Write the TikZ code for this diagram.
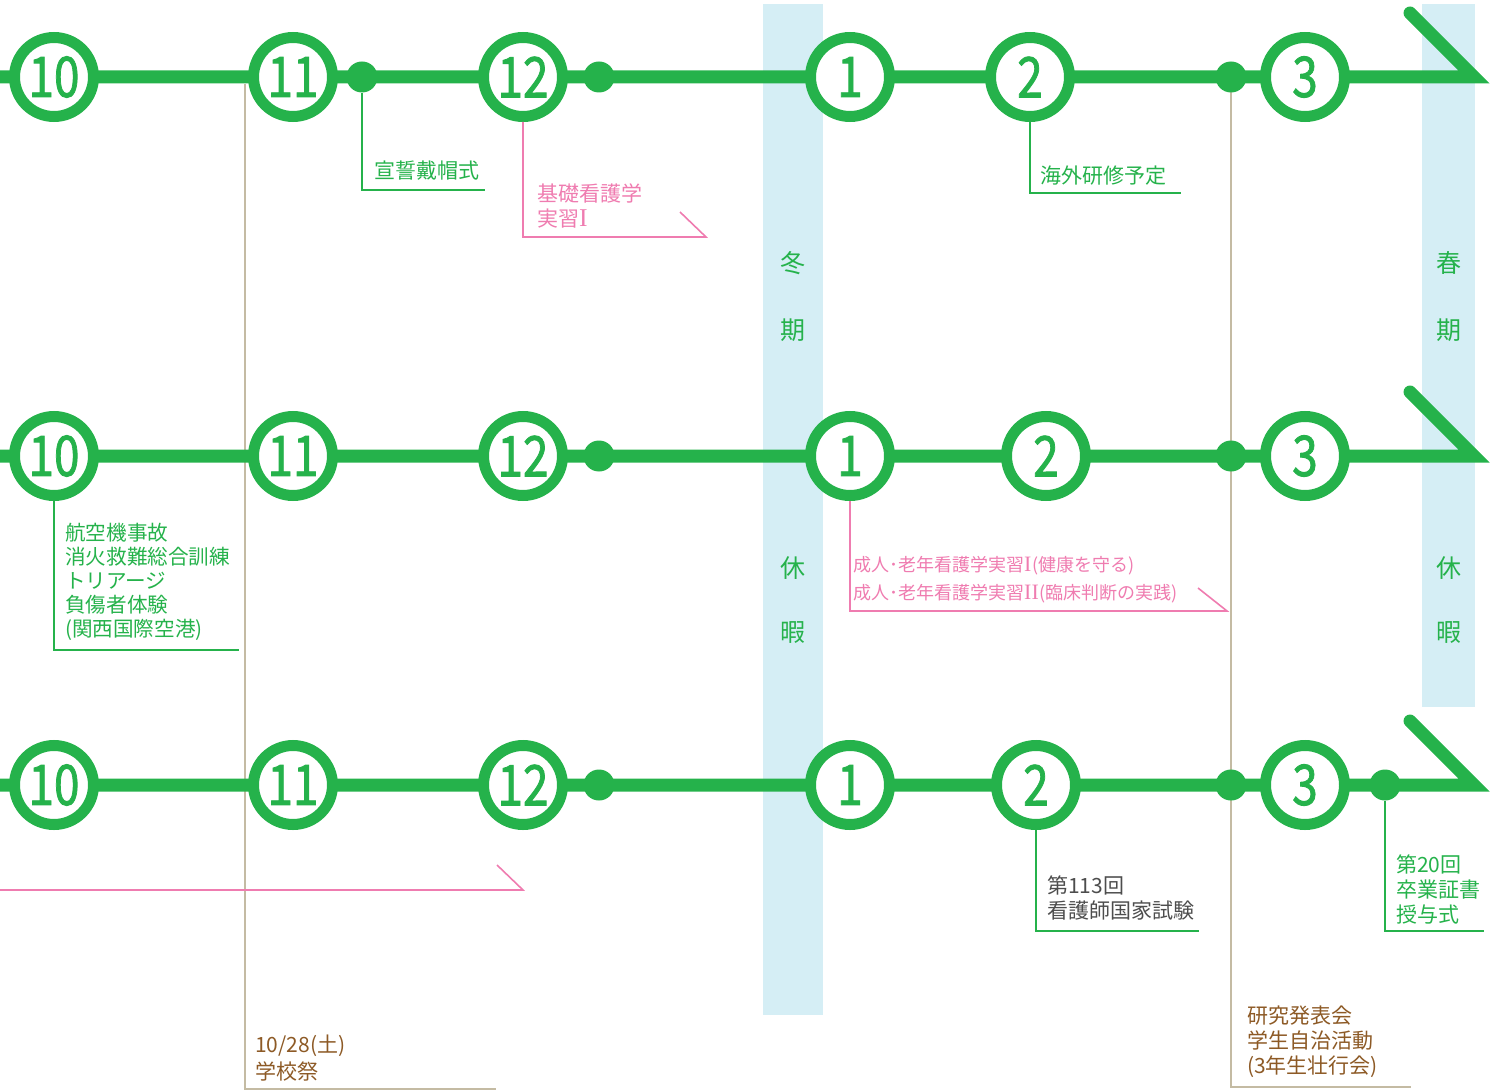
\documentclass[tikz,border=0pt]{standalone}
\usepackage{fontspec}
\setmainfont{Noto Sans CJK JP}
\newfontfamily\numfont[FakeBold=1.6]{Noto Sans CJK JP}
\newfontfamily\romfont[Scale=1.22]{Liberation Serif}
\usepackage{tikz}
\usetikzlibrary{positioning, calc}
\definecolor{lineGreen}{HTML}{25B24B}
\definecolor{notePink}{HTML}{EF7CB0}
\definecolor{restBlue}{HTML}{D5EEF5}
\definecolor{tanLine}{HTML}{C4BBA3}
\definecolor{brownText}{HTML}{8D5A26}
\definecolor{grayText}{HTML}{4D4D4D}
\newcommand{\mnum}[1]{\scalebox{0.82}[1]{\numfont #1}}
\newcommand{\rnum}[1]{{\romfont #1}\kern1pt}

\begin{document}
\begin{tikzpicture}[x=1pt, y=-1pt,
	monthnode/.style={circle, draw=lineGreen, line width=11pt, fill=white, minimum size=79pt, inner sep=0pt, text=lineGreen, font=\fontsize{56}{56}\selectfont},
	eventdot/.style={circle, fill=lineGreen, minimum size=31pt, inner sep=0pt},
	track/.style={lineGreen, line width=13pt, line join=miter, line cap=round},
	tagline/.style={line width=1.6pt},
	notetext/.style={anchor=west, align=left, inner sep=0pt, font=\fontsize{21}{25}\selectfont},
	resttext/.style={text=lineGreen, font=\fontsize{25}{25}\selectfont}]
	\useasboundingbox (0,0) rectangle (1501,1091);
	% holidays
	\fill[restBlue] (763,4) rectangle (823,1015);
	\fill[restBlue] (1422,4) rectangle (1475,707);
	\node[resttext] (win1) at (793,263) {冬};
	\node[resttext] (win2) at (793,330) {期};
	\node[resttext] (win3) at (793,568) {休};
	\node[resttext] (win4) at (793,633) {暇};
	\node[resttext] (spr1) at (1449,263) {春};
	\node[resttext] (spr2) at (1449,330) {期};
	\node[resttext] (spr3) at (1449,568) {休};
	\node[resttext] (spr4) at (1449,633) {暇};
	% tracks
	\coordinate (r1s) at (0,77);   \coordinate (r1e) at (1474,77);  \coordinate (r1t) at (1410,13);
	\coordinate (r2s) at (0,456);  \coordinate (r2e) at (1474,456); \coordinate (r2t) at (1410,392);
	\coordinate (r3s) at (0,785);  \coordinate (r3e) at (1474,785); \coordinate (r3t) at (1410,721);
	% events spanning the year
	\coordinate (fest) at (245,84);
	\coordinate (festEnd) at (496,1089);
	\coordinate (kenEnd) at (1411,1087);
	\draw[tagline, tanLine] (fest) |- (festEnd);
	\draw[tagline, tanLine] (1231,84) |- (kenEnd);
	\draw[track] (r1s) -- (r1e) -- (r1t);
	\draw[track] (r2s) -- (r2e) -- (r2t);
	\draw[track] (r3s) -- (r3e) -- (r3t);
	% first row
	\node[monthnode] (r1m10) at (54,77) {\mnum{10}};
	\node[monthnode] (r1m11) at (293,77) {\mnum{11}};
	\node[monthnode] (r1m12) at (523,77) {\mnum{12}};
	\node[monthnode] (r1m1) at (850,77) {\mnum{1}};
	\node[monthnode] (r1m2) at (1030,77) {\mnum{2}};
	\node[monthnode] (r1m3) at (1305,77) {\mnum{3}};
	\node[eventdot] (r1d1) at (362,77) {};
	\node[eventdot] (r1d2) at (599,77) {};
	\node[eventdot] (r1d3) at (1231,77) {};
	% second row
	\node[monthnode] (r2m10) at (54,456) {\mnum{10}};
	\node[monthnode] (r2m11) at (293,456) {\mnum{11}};
	\node[monthnode] (r2m12) at (523,456) {\mnum{12}};
	\node[monthnode] (r2m1) at (850,456) {\mnum{1}};
	\node[monthnode] (r2m2) at (1046,456) {\mnum{2}};
	\node[monthnode] (r2m3) at (1305,456) {\mnum{3}};
	\node[eventdot] (r2d1) at (599,456) {};
	\node[eventdot] (r2d2) at (1231,456) {};
	% third row
	\node[monthnode] (r3m10) at (54,785) {\mnum{10}};
	\node[monthnode] (r3m11) at (293,785) {\mnum{11}};
	\node[monthnode] (r3m12) at (523,785) {\mnum{12}};
	\node[monthnode] (r3m1) at (850,785) {\mnum{1}};
	\node[monthnode] (r3m2) at (1036,785) {\mnum{2}};
	\node[monthnode] (r3m3) at (1305,785) {\mnum{3}};
	\node[eventdot] (r3d1) at (599,785) {};
	\node[eventdot] (r3d2) at (1231,785) {};
	\node[eventdot] (r3d3) at (1385,785) {};
	% notes
	\coordinate (senseiEnd) at (485,190);
	\draw[tagline, lineGreen] (r1d1.south) |- (senseiEnd);
	\node[notetext, text=lineGreen] (sensei) at (374,171) {宣誓戴帽式};
	\coordinate (kisoEnd) at (706,237);
	\draw[tagline, notePink, line join=miter] (r1m12.south) |- (kisoEnd) -- ++(-26,-25);
	\node[notetext, text=notePink] (kiso) at (537,206) {基礎看護学\\実習\rnum{I}};
	\coordinate (kaigaiEnd) at (1181,193);
	\draw[tagline, lineGreen] (r1m2.south) |- (kaigaiEnd);
	\node[notetext, text=lineGreen] (kaigai) at (1040,176) {海外研修予定};
	\coordinate (koukuuEnd) at (239,650);
	\draw[tagline, lineGreen] (r2m10.south) |- (koukuuEnd);
	\node[notetext, text=lineGreen, font=\fontsize{20.6}{24}\selectfont] (koukuu) at (65,582) {航空機事故\\消火救難総合訓練\\トリアージ\\負傷者体験\\(関西国際空港)};
	\coordinate (seijinEnd) at (1227,611);
	\draw[tagline, notePink, line join=miter] (r2m1.south) |- (seijinEnd) -- ++(-29,-23);
	\node[notetext, text=notePink, font=\fontsize{18}{28}\selectfont] (seijin) at (853,580) {成人･老年看護学実習\rnum{I}(健康を守る)\\成人･老年看護学実習\rnum{II}(臨床判断の実践)};
	\coordinate (seijinS) at (0,890);
	\coordinate (seijinT) at (523,890);
	\draw[tagline, notePink, line join=miter] (seijinS) -- (seijinT) -- ++(-26,-25);
	\coordinate (kokushiEnd) at (1199,931);
	\draw[tagline, lineGreen] (r3m2.south) |- (kokushiEnd);
	\node[notetext, text=grayText] (kokushi) at (1047,898) {第113回\\看護師国家試験};
	\coordinate (sotsuEnd) at (1484,931);
	\draw[tagline, lineGreen] (r3d3.south) |- (sotsuEnd);
	\node[notetext, text=lineGreen] (sotsu) at (1396,889) {第20回\\卒業証書\\授与式};
	\node[notetext, text=brownText] (kenkyu) at (1247,1042) {研究発表会\\学生自治活動\\(3年生壮行会)};
	\node[notetext, text=brownText, font=\fontsize{21}{27}\selectfont] (gakusai) at (255,1058) {10/28(土)\\学校祭};
\end{tikzpicture}
\end{document}
